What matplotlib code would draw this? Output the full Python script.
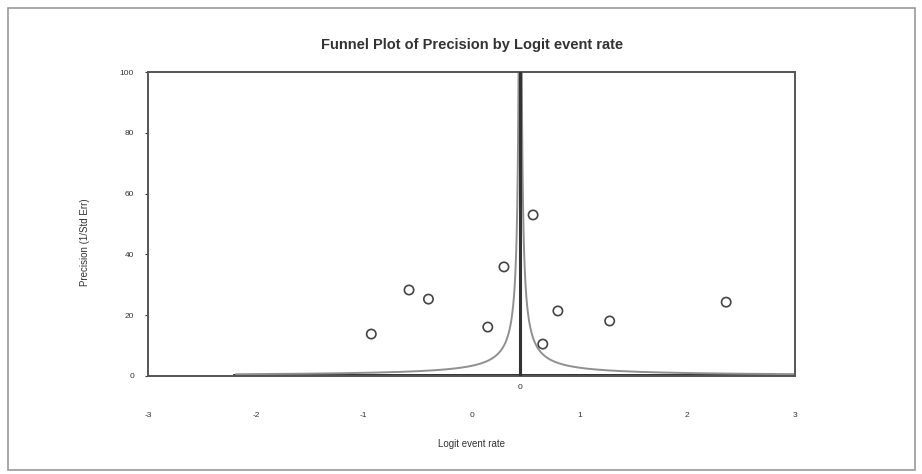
import numpy as np
import matplotlib.pyplot as plt
from matplotlib.patches import Rectangle

# study estimates (logit event rate) and precision (1/SE)
logit_rate = [-0.93, -0.58, -0.40, 0.15, 0.30, 0.57, 0.66, 0.80, 1.28, 2.36]
precision = [13.8, 28.3, 25.3, 16.1, 35.9, 53.0, 10.5, 21.4, 18.1, 24.3]
pooled = 0.45
x_ticks = [-3, -2, -1, 0, 1, 2, 3]
y_ticks = [0, 20, 40, 60, 80, 100]

plt.rcParams['font.family'] = ['Liberation Sans', 'DejaVu Sans']

fig = plt.figure(figsize=(9.22, 4.74), dpi=100)
fig.patches.append(Rectangle((0.009, 0.008), 0.983, 0.975, transform=fig.transFigure,
                             fill=False, edgecolor='#9a9a9a', linewidth=1.2))
ax = fig.add_axes([0.1605, 0.2068, 0.702, 0.641])

# funnel limits
prec = np.linspace(0.57, 100, 4000)
ax.plot(pooled - 1.5 / prec, prec, color='#909090', lw=1.4, zorder=2)
ax.plot(pooled + 1.5 / prec, prec, color='#909090', lw=1.4, zorder=2)
ax.plot([-2.2, 3], [0.4, 0.4], color='#222222', lw=1.3, zorder=1)
ax.axvline(pooled, color='#333333', lw=2.2, zorder=3)

ax.scatter(logit_rate, precision, s=45, facecolors='none', edgecolors='#444444',
           linewidths=1.2, zorder=4)

ax.set_xlim(-3, 3)
ax.set_ylim(0, 100)
ax.set_xticks(x_ticks)
ax.set_xticklabels([str(v) for v in x_ticks])
ax.set_yticks(y_ticks)
ax.tick_params(axis='x', length=0, pad=26, labelsize=6, colors='#333333')
ax.tick_params(axis='y', length=2, pad=8, labelsize=6, colors='#333333')
for s in ax.spines.values():
    s.set_color('#555555')
    s.set_linewidth(1.4)

ax.text(pooled, -2.5, '0', ha='center', va='top', fontsize=6, color='#333333')
ax.set_xlabel('Logit event rate', fontsize=7, labelpad=14, color='#333333')
ax.set_ylabel('Precision (1/Std Err)', fontsize=7, color='#333333')
ax.yaxis.set_label_coords(-0.09, 0.44)
ax.set_title('Funnel Plot of Precision by Logit event rate', fontsize=10.5,
             fontweight='bold', pad=17, color='#333333')

fig.savefig('out.png', dpi=100)
